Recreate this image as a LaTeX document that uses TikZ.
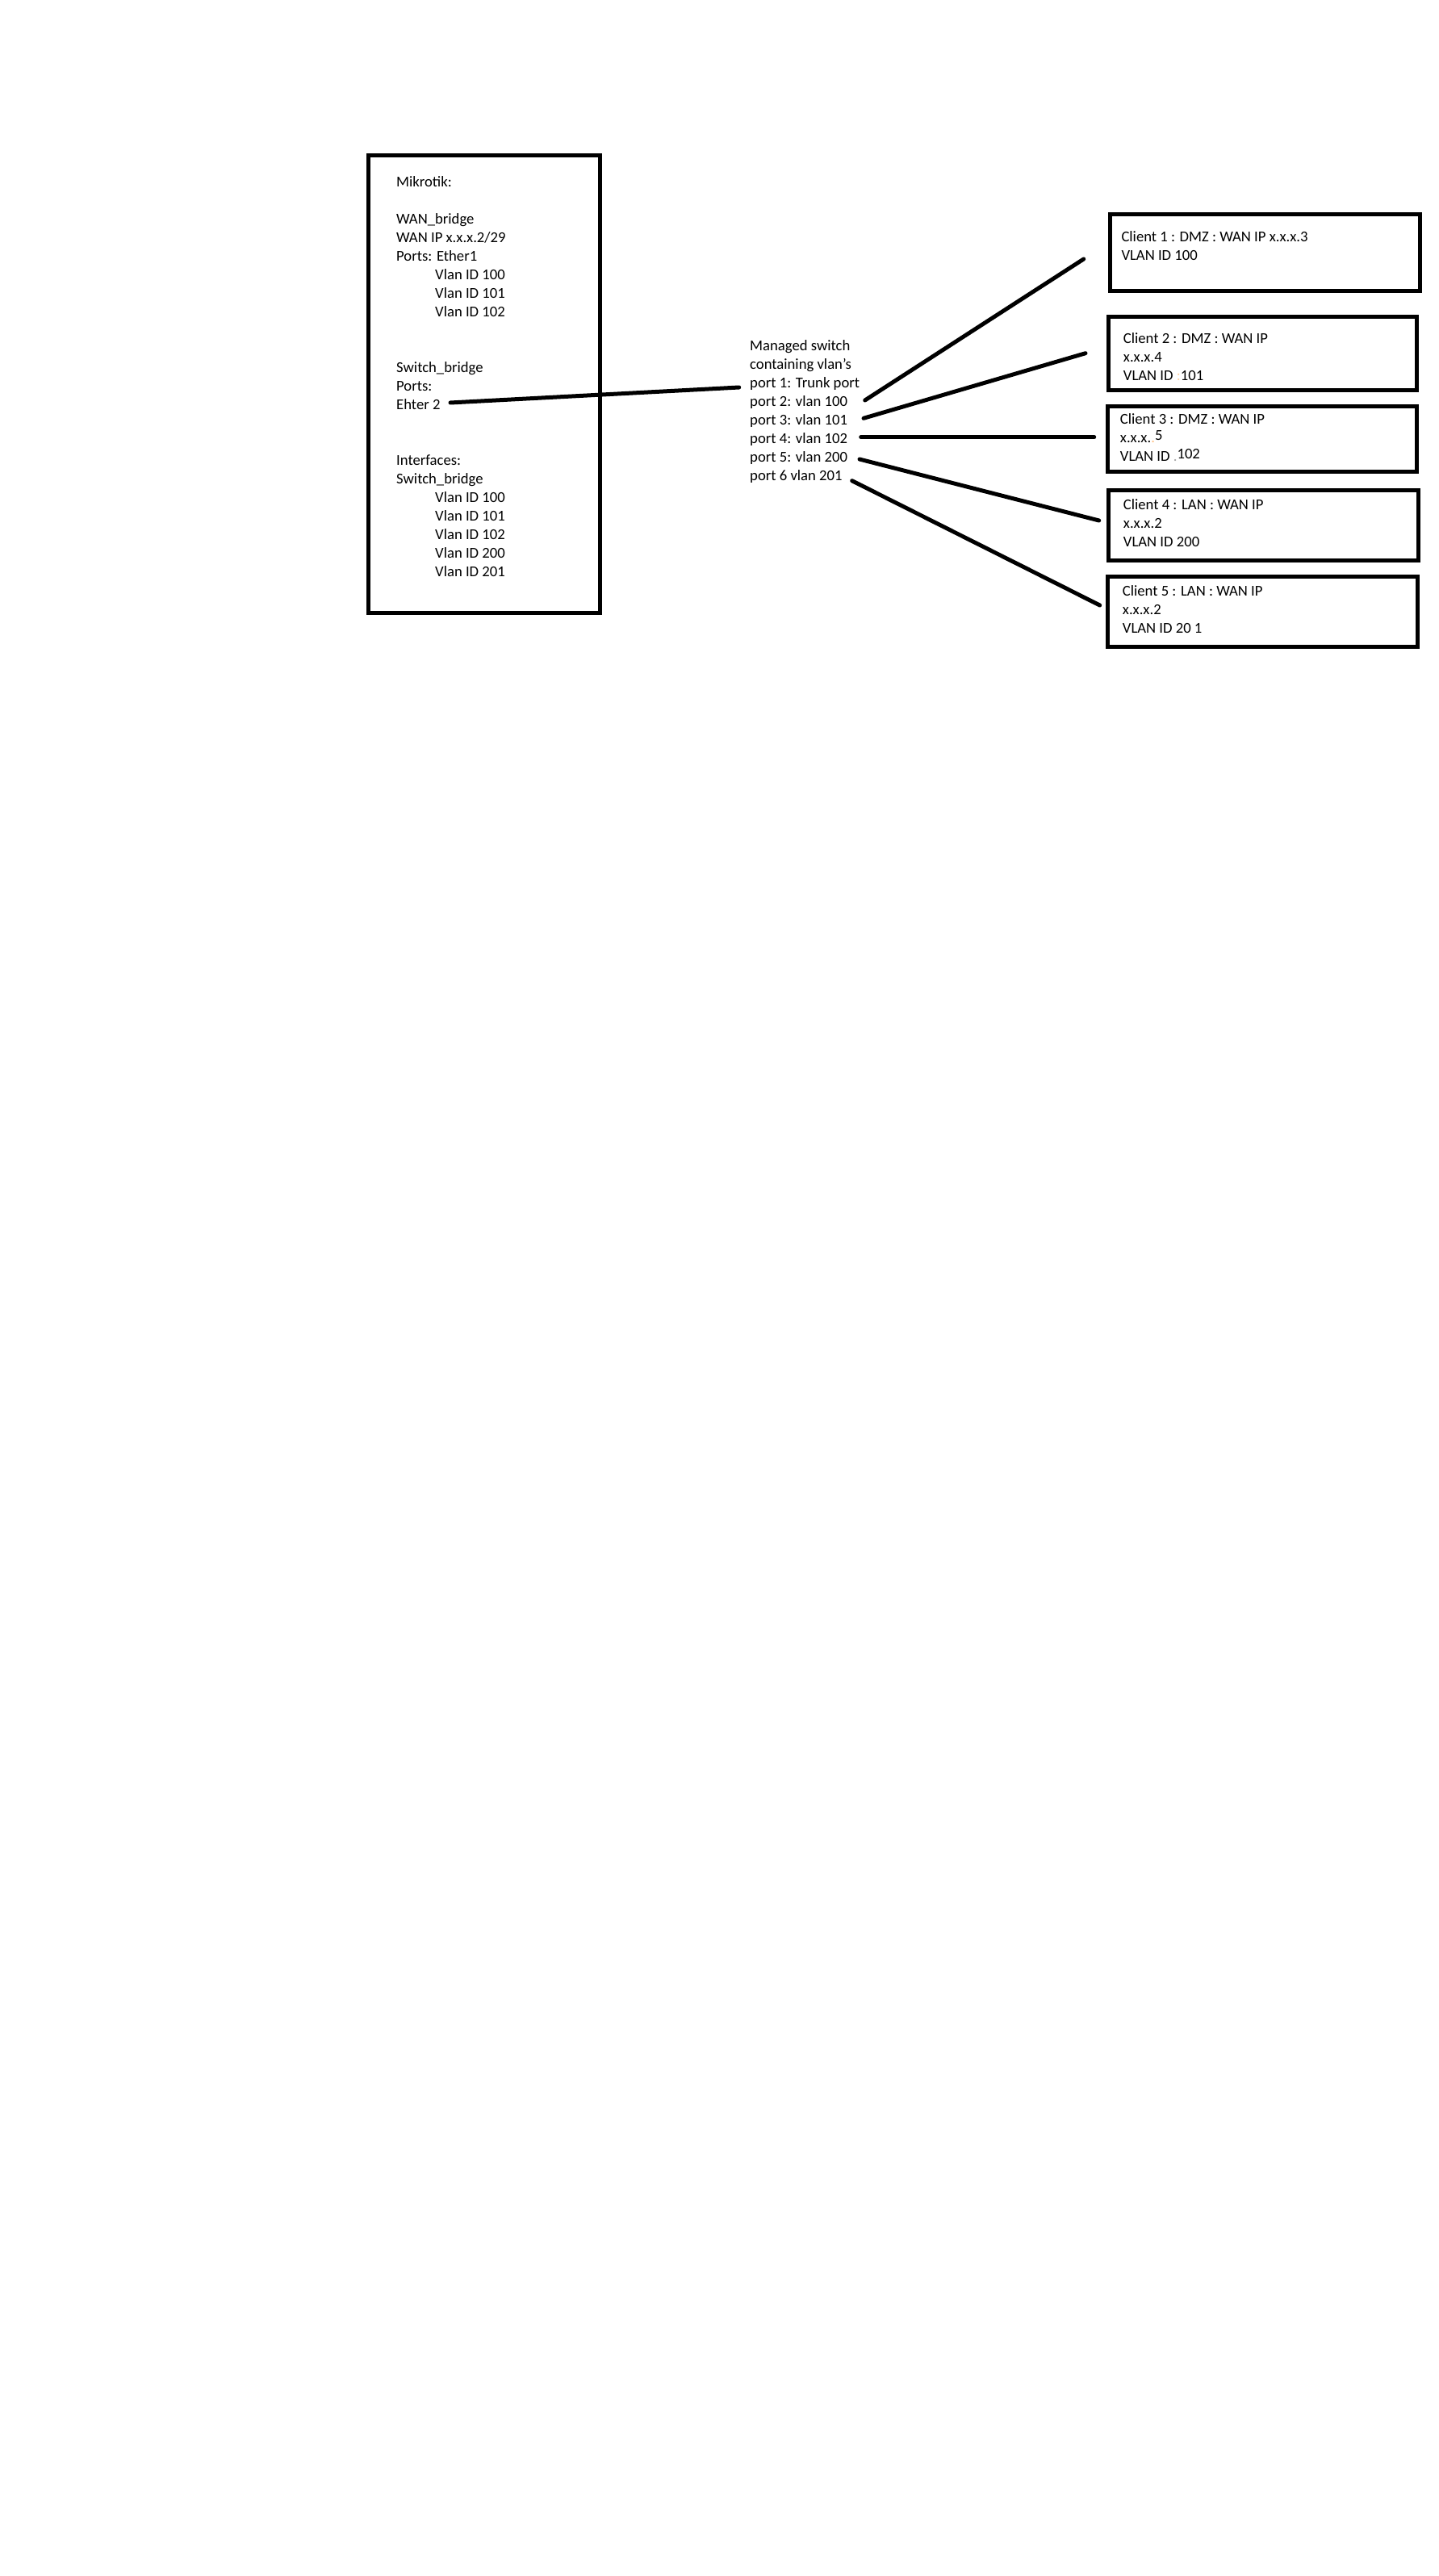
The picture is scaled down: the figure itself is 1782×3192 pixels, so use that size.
\documentclass[tikz,border=0pt]{standalone}
\usepackage{fontspec}
\setmainfont{Carlito}
\newcommand\vlanind{\hspace*{48pt}}
\begin{document}
\begin{tikzpicture}[x=1pt,y=-1pt,
  frame/.style={line width=5pt},
  wire/.style={line width=5pt, line cap=round},
  txt/.style={anchor=north west, inner sep=0pt, align=left,
    font=\fontsize{18.67}{23}\selectfont}]
\useasboundingbox (0,0) rectangle (1782,3192);
% router
\draw[frame] (456.5,193) rectangle (743.5,759.5);
\node[txt] (mikrotik) at (491,215) {\rule{0pt}{16pt}Mikrotik:\\ \\
  WAN\_bridge\\ WAN IP x.x.x.2/29\\ Ports: Ether1\\
  \vlanind Vlan ID 100\\ \vlanind Vlan ID 101\\ \vlanind Vlan ID 102\\ \\ \\
  Switch\_bridge\\ Ports:\\ Ehter 2\\ \\ \\
  Interfaces:\\ Switch\_bridge\\
  \vlanind Vlan ID 100\\ \vlanind Vlan ID 101\\ \vlanind Vlan ID 102\\
  \vlanind Vlan ID 200\\ \vlanind Vlan ID 201};
% switch
\node[txt] (switch) at (929,418) {\rule{0pt}{16pt}Managed switch\\ containing vlan's\\
  port 1: Trunk port\\ port 2: vlan 100\\ port 3: vlan 101\\ port 4: vlan 102\\
  port 5: vlan 200\\ port 6 vlan 201};
% clients
\draw[frame] (1375.5,266) rectangle (1759,360);
\node[txt] (client1) at (1389.3,283.3) {\rule{0pt}{16pt}Client 1 : DMZ : WAN IP x.x.x.3\\ VLAN ID 100};
\draw[frame] (1373,392) rectangle (1755,483);
\node[txt] (client2) at (1391.7,409) {\rule{0pt}{16pt}Client 2 : DMZ : WAN IP\\ x.x.x.4\\
  VLAN ID \textcolor{orange!35}{:}101};
\draw[frame] (1372.5,503) rectangle (1755,584);
\node[txt] (client3) at (1387.7,509.5) {\rule{0pt}{16pt}Client 3 : DMZ : WAN IP\\
  x.x.x.\textcolor{orange!50}{.}\raisebox{3.5pt}{5}\\
  VLAN ID \textcolor{black!35}{.}\raisebox{3.5pt}{102}};
\draw[frame] (1373.5,607) rectangle (1757,694.5);
\node[txt] (client4) at (1391.7,615.4) {\rule{0pt}{16pt}Client 4 : LAN : WAN IP\\ x.x.x.2\\ VLAN ID 200};
\draw[frame] (1372.5,714) rectangle (1756,801.5);
\node[txt] (client5) at (1390.7,722) {\rule{0pt}{16pt}Client 5 : LAN : WAN IP\\ x.x.x.2\\ VLAN ID 20 1};
% line ends
\coordinate (ether2) at (558,499);
\coordinate (trunk) at (915.7,480);
\coordinate (port2) at (1071.7,496);
\coordinate (port3) at (1070,518.3);
\coordinate (port4) at (1066.7,541.7);
\coordinate (port5) at (1065,569);
\coordinate (port6) at (1055.7,595.7);
\coordinate (to1) at (1342.7,321);
\coordinate (to2) at (1345,437.7);
\coordinate (to3) at (1355.7,541.7);
\coordinate (to4) at (1361.7,645);
\coordinate (to5) at (1362.7,750);
\draw[wire] (ether2) -- (trunk);
\draw[wire] (port2) -- (to1);
\draw[wire] (port3) -- (to2);
\draw[wire] (port4) -- (to3);
\draw[wire] (port5) -- (to4);
\draw[wire] (port6) -- (to5);
\end{tikzpicture}
\end{document}
